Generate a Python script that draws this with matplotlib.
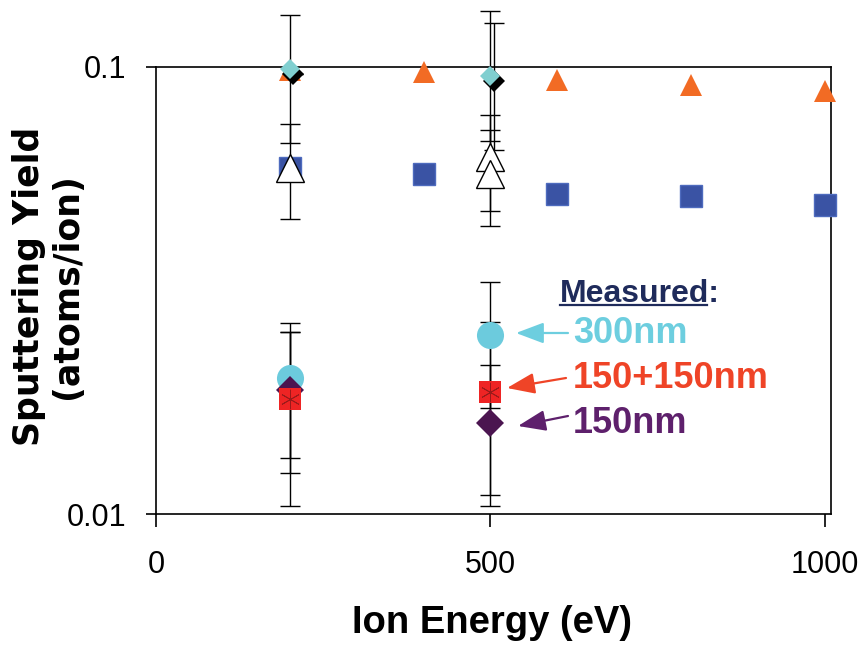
# Sputtering yield vs ion energy, simulated vs measured
import numpy as np
import matplotlib
matplotlib.use("Agg")
import matplotlib.pyplot as plt
from matplotlib.lines import Line2D

plt.rcParams['font.family'] = ['Liberation Sans', 'DejaVu Sans']

# simulated series (5 energies)
energy = [200, 400, 600, 800, 1000]
sim_orange = [0.0985, 0.0975, 0.0935, 0.0912, 0.0884]
sim_blue = [0.0594, 0.0576, 0.0520, 0.0514, 0.0491]

# diamonds near 0.1 with error bars
cyan_d_x = [200, 500]
cyan_d_y = [0.0990, 0.0954]
cyan_d_lo = [0.0676, 0.0683]
cyan_d_hi = [0.1307, 0.1335]

black_d_x = [205, 505]
black_d_y = [0.0965, 0.0930]
black_d_lo = [0.0965, 0.0652]
black_d_hi = [0.0965, 0.1257]

# open triangles
tri_x = [200, 500, 500]
tri_y = [0.0594, 0.0629, 0.0576]
tri_lo = [0.0457, 0.0476, 0.0441]
tri_hi = [0.0746, 0.0781, 0.0723]

# measured
m300_x = [200, 500]
m300_y = [0.0201, 0.0251]
m300_lo = [0.01335, 0.0173]
m300_hi = [0.02675, 0.0330]

m150x2_x = [200, 500]
m150x2_y = [0.0181, 0.01875]
m150x2_lo = [0.01042, 0.0104]
m150x2_hi = [0.0255, 0.0269]

m150_x = [200, 500]
m150_y = [0.0189, 0.0160]
m150_lo = [0.01235, 0.0110]
m150_hi = [0.0255, 0.02154]

fig = plt.figure(figsize=(8.62, 6.45), dpi=100)
ax = fig.add_axes([156/862, 1 - 514/645, 675/862, 447/645])
ax.set_yscale('log')
ax.set_xlim(0, 1009)
ax.set_ylim(0.01, 0.1)


def ebar(x, y, lo, hi):
    y = np.array(y)
    err = [y - np.array(lo), np.array(hi) - y]
    c = ax.errorbar(x, y, yerr=err, fmt='none', ecolor='black',
                    elinewidth=1.0, capsize=7, capthick=1.0, zorder=2)
    for a in c.lines[1]:
        a.set_clip_on(False)
    for a in c.lines[2]:
        a.set_clip_on(False)


ebar(cyan_d_x, cyan_d_y, cyan_d_lo, cyan_d_hi)
ebar(black_d_x, black_d_y, black_d_lo, black_d_hi)
ebar(tri_x, tri_y, tri_lo, tri_hi)
ebar(m300_x, m300_y, m300_lo, m300_hi)
ebar(m150x2_x, m150x2_y, m150x2_lo, m150x2_hi)
ebar(m150_x, m150_y, m150_lo, m150_hi)

kw = dict(linestyle='none', clip_on=False)
ax.plot(energy, sim_blue, marker='s', markersize=16.5, color='#3A53A4',
        markeredgecolor='#4E6BBE', markeredgewidth=1.0, zorder=3, **kw)
ax.plot(tri_x, tri_y, marker='^', markersize=20, color='white',
        markeredgecolor='black', markeredgewidth=1.0, zorder=4, **kw)
ax.plot(energy, sim_orange, marker='^', markersize=16, color='#F26B24',
        markeredgewidth=0, zorder=3, **kw)
ax.plot(black_d_x, black_d_y, marker='D', markersize=11, color='black',
        markeredgewidth=0, zorder=4, **kw)
ax.plot(cyan_d_x, cyan_d_y, marker='D', markersize=10.5, color='#80CFD0',
        markeredgewidth=0, zorder=5, **kw)

ax.plot(m300_x, m300_y, marker='o', markersize=19.5, color='#6CCBDD',
        markeredgewidth=0, zorder=4, **kw)
ax.plot(m150_x, m150_y, marker='D', markersize=14.5, color='#4B1550',
        markeredgewidth=0, zorder=5, **kw)
ax.plot(m150x2_x, m150x2_y, marker='s', markersize=16.5, color='#EE2424',
        markeredgewidth=0, zorder=6, **kw)
ax.plot(m150x2_x, m150x2_y, marker=(6, 2, 0), markersize=14, color='#9A1A1A',
        markeredgewidth=0.6, zorder=7, **kw)

# axes styling
for s in ax.spines.values():
    s.set_linewidth(1.2)
ax.set_xticks([0, 500, 1000])
ax.set_xticklabels(['0', '500', '1000'])
ax.set_yticks([0.01, 0.1])
ax.set_yticklabels(['0.01', '0.1'])
ax.yaxis.set_minor_locator(matplotlib.ticker.NullLocator())
ax.tick_params(axis='x', direction='out', length=9, width=1.2, pad=17, labelsize=22)
ax.tick_params(axis='y', direction='out', length=7.5, width=1.2, pad=14, labelsize=22)

ax.set_xlabel('Ion Energy (eV)', fontsize=27.5, fontweight='bold', va='center')
ax.xaxis.set_label_coords(0.498, (514 - 623) / 447)
ax.set_ylabel('Sputtering Yield\n(atoms/ion)', fontsize=25, fontweight='bold',
              family='DejaVu Sans', va='center', linespacing=1.12)
ax.yaxis.set_label_coords((48 - 156) / 675, 0.51)

# annotation
def fx(px):
    return (px - 156) / 675


def fy(py):
    return (514 - py) / 447


ax.text(fx(560), fy(302), 'Measured:', fontsize=23, fontweight='bold',
        color='#1F2B5B', transform=ax.transAxes, va='baseline')
ax.add_line(Line2D([fx(560), fx(707)], [fy(304.5), fy(304.5)], color='#1F2B5B',
                   linewidth=1.6, transform=ax.transAxes, clip_on=False))

labels = ['300nm', '150+150nm', '150nm']
label_colors = ['#6DCEDF', '#EF4427', '#5E206C']
label_base = [343, 388, 433]
tails = [(568, 333), (566, 378), (568, 416)]
tips = [(516, 333), (507, 388), (518, 426)]
for lab, col, base, t0, t1 in zip(labels, label_colors, label_base, tails, tips):
    ax.text(fx(573), fy(base), lab, fontsize=26, fontweight='bold', color=col,
            transform=ax.transAxes, va='baseline')
    ax.annotate('', xy=(fx(t1[0]), fy(t1[1])), xytext=(fx(t0[0]), fy(t0[1])),
                xycoords='axes fraction', textcoords='axes fraction',
                arrowprops=dict(arrowstyle='-|>,head_length=0.85,head_width=0.32',
                                mutation_scale=20, color=col, lw=1.6,
                                shrinkA=0, shrinkB=0))

fig.savefig('out.png', dpi=100)
